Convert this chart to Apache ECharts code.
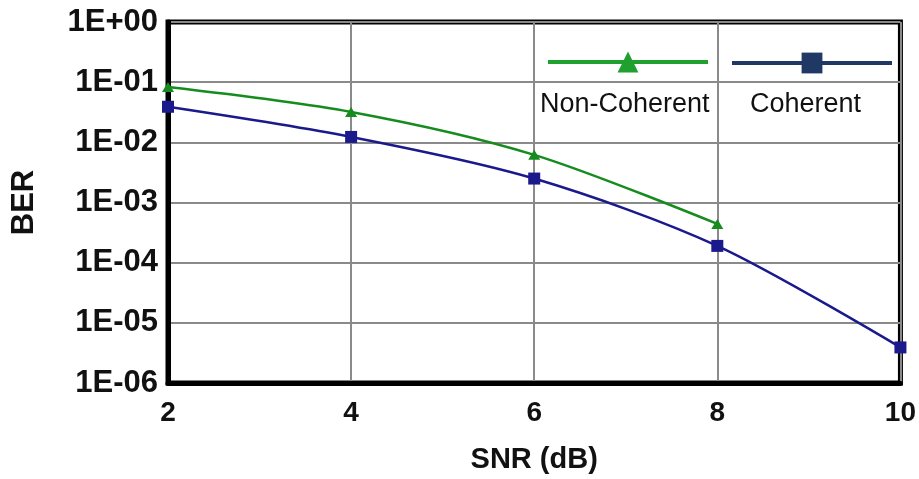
<!DOCTYPE html>
<html>
<head>
<meta charset="utf-8">
<script src="https://cdn.jsdelivr.net/npm/echarts@6/dist/echarts.min.js"></script>
<style>
html,body{margin:0;padding:0;background:#fff;}
#chart{width:919px;height:479px;}
</style>
</head>
<body>
<div id="chart"></div>
<script>
// Data
var snrValues = [2, 4, 6, 8, 10];
var nonCoherentBER = [0.083, 0.032, 0.0062, 0.00044];
var coherentBER = [0.039, 0.0123, 0.0025, 0.00019, 0.0000039];
var seriesNames = ['Non-Coherent', 'Coherent'];
var xTitle = 'SNR (dB)';
var yTitle = 'BER';

function pairs(xs, ys) {
  var out = [];
  for (var i = 0; i < ys.length; i++) out.push([xs[i], ys[i]]);
  return out;
}
function fmtExp(v) {
  var e = Math.round(Math.log10(v));
  var s = e < 0 ? '-' : '+';
  var a = Math.abs(e);
  return '1E' + s + (a < 10 ? '0' : '') + a;
}

var FONT = '"Liberation Sans", Arial, sans-serif';
var chart = echarts.init(document.getElementById('chart'));
var option = {
  backgroundColor: '#ffffff',
  animation: false,
  grid: {
    left: 168, top: 22, right: 17, bottom: 96,
    show: true, borderColor: '#000', borderWidth: 5, backgroundColor: 'transparent'
  },
  xAxis: {
    type: 'value', min: 2, max: 10, interval: 2,
    name: xTitle, nameLocation: 'middle', nameGap: 62,
    nameTextStyle: {fontFamily: FONT, fontWeight: 'bold', fontSize: 29, color: '#111'},
    axisLine: {show: true, lineStyle: {color: '#000', width: 5}},
    axisTick: {show: false},
    axisLabel: {fontFamily: FONT, fontWeight: 'bold', fontSize: 28, color: '#111', margin: 16},
    splitLine: {show: true, lineStyle: {color: '#8a8a8a', width: 2}}
  },
  yAxis: {
    type: 'log', logBase: 10, min: 1e-6, max: 1,
    name: yTitle, nameLocation: 'middle', nameGap: 128, nameRotate: 90,
    nameTextStyle: {fontFamily: FONT, fontWeight: 'bold', fontSize: 31, color: '#111'},
    axisLine: {show: true, lineStyle: {color: '#000', width: 5}},
    axisTick: {show: false},
    axisLabel: {fontFamily: FONT, fontWeight: 'bold', fontSize: 31, color: '#111', margin: 10,
      formatter: function (v) { return fmtExp(v); }},
    splitLine: {show: true, lineStyle: {color: '#8a8a8a', width: 2}}
  },
  legend: [
    {
      data: [{name: seriesNames[0], itemStyle: {color: '#1fa02f'}, lineStyle: {color: '#1fa02f', width: 4}}],
      left: 546, top: 49, itemWidth: 160, itemHeight: 26, itemGap: 0,
      formatter: function () { return ''; }, textStyle: {fontSize: 1}, padding: 0
    },
    {
      data: [{name: seriesNames[1], itemStyle: {color: '#1f3864'}, lineStyle: {color: '#1f3864', width: 4}}],
      left: 730, top: 50, itemWidth: 160, itemHeight: 26, itemGap: 0,
      formatter: function () { return ''; }, textStyle: {fontSize: 1}, padding: 0
    }
  ],
  graphic: [
    {type: 'text', left: 540, top: 91, style: {text: seriesNames[0], font: '27px ' + FONT, fill: '#111'}},
    {type: 'text', left: 750, top: 91, style: {text: seriesNames[1], font: '27px ' + FONT, fill: '#111'}}
  ],
  series: [
    {
      name: seriesNames[0], type: 'line', smooth: 0.3,
      data: pairs(snrValues, nonCoherentBER),
      symbol: 'triangle', symbolSize: [12, 10],
      itemStyle: {color: '#168c1e'},
      lineStyle: {color: '#168c1e', width: 2.5},
      z: 3
    },
    {
      name: seriesNames[1], type: 'line', smooth: 0.3,
      data: pairs(snrValues, coherentBER),
      symbol: 'rect', symbolSize: 12,
      itemStyle: {color: '#1a1a8c'},
      lineStyle: {color: '#1a1a8c', width: 2.5},
      z: 4
    }
  ]
};
chart.setOption(option);
</script>
</body>
</html>
